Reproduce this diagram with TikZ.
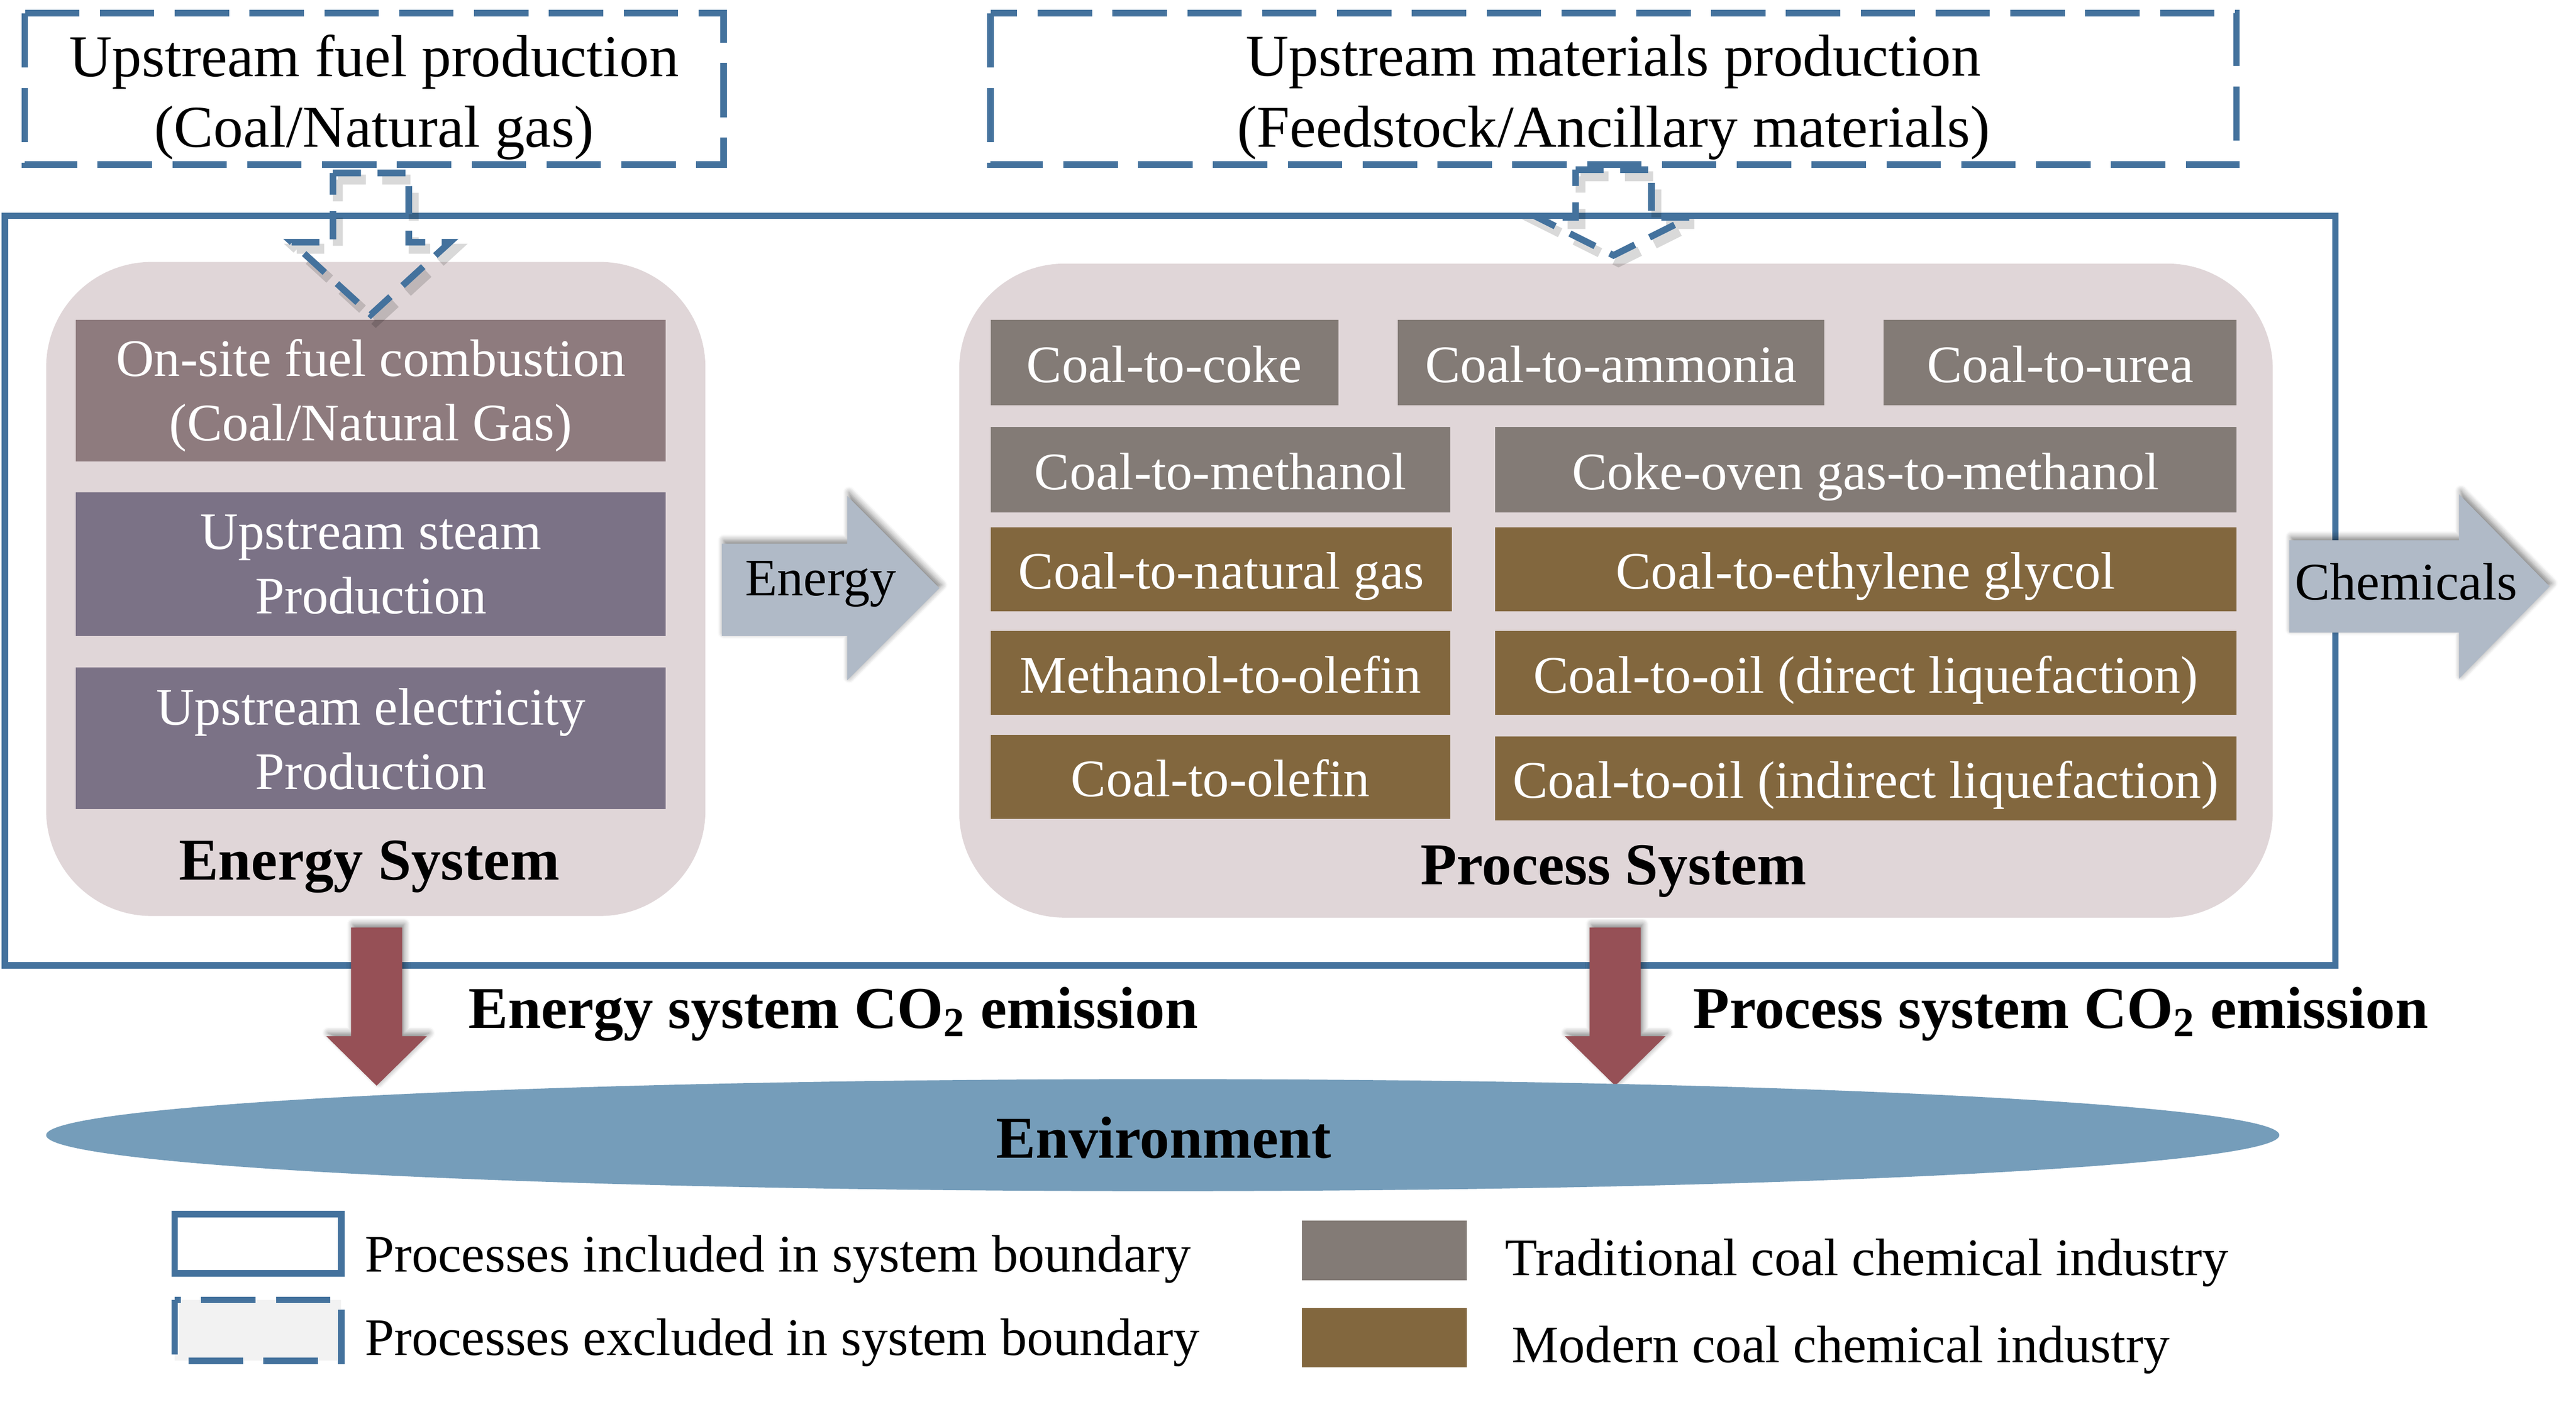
\documentclass[tikz,border=0pt]{standalone}
\usepackage{fontspec}
\setmainfont{Liberation Serif}
\usetikzlibrary{shadows.blur}

\definecolor{bndblue}{RGB}{68,114,157}
\definecolor{panelpink}{RGB}{224,214,216}
\definecolor{onsitegray}{RGB}{142,123,126}
\definecolor{upstreampurple}{RGB}{123,114,134}
\definecolor{tradgray}{RGB}{131,123,118}
\definecolor{modbrown}{RGB}{130,103,62}
\definecolor{arrowgray}{RGB}{176,186,199}
\definecolor{emisred}{RGB}{150,80,86}
\definecolor{envblue}{RGB}{117,157,186}
\definecolor{legfill}{RGB}{242,242,242}

\tikzset{
  bnd/.style={draw=bndblue, line width=2pt},
  dashbnd/.style={draw=bndblue, line width=2pt, dash pattern=on 16.5pt off 6.2pt},
  dasharrow/.style={draw=bndblue, line width=2pt, dash pattern=on 8.5pt off 5pt},
  dashshade/.style={draw=black, opacity=0.15, line width=3pt, dash pattern=on 8.5pt off 5pt},
  blockarrow/.style={blur shadow={shadow xshift=0.6pt, shadow yshift=1pt, shadow blur steps=6, shadow opacity=50}},
  bigtxt/.style={inner sep=0pt, font=\fontsize{18}{21.5}\selectfont, align=center},
  boxtxt/.style={inner sep=0pt, text=white, font=\fontsize{16}{19.5}\selectfont, align=center},
  boldtxt/.style={inner sep=0pt, font=\fontsize{18}{21.5}\selectfont\bfseries},
  legtxt/.style={inner sep=0pt, font=\fontsize{16}{19.5}\selectfont}
}

\begin{document}
\begin{tikzpicture}[x=0.5pt,y=0.5pt,yscale=-1]
    %set diagram left start at 0, and has height of 854
    \useasboundingbox (0,0) rectangle (1563,854);

    %Shape: Rectangle [upstream fuel]
    \draw [dashbnd] (15,8) rectangle (439,100);
    %Shape: Rectangle [upstream materials]
    \draw [dashbnd] (601,8) rectangle (1357,100);
    %Shape: Rectangle [system boundary]
    \draw [bnd] (3,131) rectangle (1417,586);

    %Shape: Rounded Rect [energy system]
    \fill [panelpink, rounded corners=32pt] (28,159) rectangle (428,556);
    %Shape: Rounded Rect [process system]
    \fill [panelpink, rounded corners=32pt] (582,160) rectangle (1379,557);

    %Shape: Rectangle [energy boxes]
    \fill [onsitegray] (46,194) rectangle (404,280);
    \fill [upstreampurple] (46,299) rectangle (404,386);
    \fill [upstreampurple] (46,405) rectangle (404,491);

    %Shape: Rectangle [traditional processes]
    \fill [tradgray] (601,194) rectangle (812,246);
    \fill [tradgray] (848,194) rectangle (1107,246);
    \fill [tradgray] (1143,194) rectangle (1357,246);
    \fill [tradgray] (601,259) rectangle (880,311);
    \fill [tradgray] (907,259) rectangle (1357,311);
    %Shape: Rectangle [modern processes]
    \fill [modbrown] (601,320) rectangle (881,371);
    \fill [modbrown] (907,320) rectangle (1357,371);
    \fill [modbrown] (601,383) rectangle (880,434);
    \fill [modbrown] (907,383) rectangle (1357,434);
    \fill [modbrown] (601,446) rectangle (880,497);
    \fill [modbrown] (907,447) rectangle (1357,498);

    %Shape: Down Arrow (dashed) [fuel input]
    \draw [dashshade, shift={(3,4)}] (202,105) -- (248,105) -- (248,147) -- (273,147) -- (225,191) -- (177,147) -- (202,147) -- cycle;
    \draw [dasharrow] (202,105) -- (248,105) -- (248,147) -- (273,147) -- (225,191) -- (177,147) -- (202,147) -- cycle;
    %Shape: Down Arrow (dashed) [materials input]
    \draw [dashshade, shift={(3,4)}] (956,103) -- (1002,103) -- (1002,132) -- (1025,132) -- (979,155) -- (933,132) -- (956,132) -- cycle;
    \draw [dasharrow] (956,103) -- (1002,103) -- (1002,132) -- (1025,132) -- (979,155) -- (933,132) -- (956,132) -- cycle;

    %Shape: Right Arrow [energy]
    \fill [arrowgray, blockarrow] (438,330) -- (514,330) -- (514,301) -- (570,357) -- (514,413) -- (514,386) -- (438,386) -- cycle;
    %Shape: Right Arrow [chemicals]
    \fill [arrowgray, blockarrow] (1389,328) -- (1492,328) -- (1492,300) -- (1547,356) -- (1492,412) -- (1492,384) -- (1389,384) -- cycle;
    %Shape: Down Arrow [energy emission]
    \fill [emisred, blockarrow] (213,563) -- (244,563) -- (244,629) -- (259,629) -- (228.5,659) -- (198,629) -- (213,629) -- cycle;
    %Shape: Down Arrow [process emission]
    \fill [emisred, blockarrow] (964.5,563) -- (995.5,563) -- (995.5,629) -- (1010.5,629) -- (980,659) -- (949.5,629) -- (964.5,629) -- cycle;

    %Shape: Ellipse [environment]
    \fill [envblue] (705.5,689) ellipse [x radius=338.75pt, y radius=17pt];

    %Shape: Legend
    \draw [bnd] (106,737) rectangle (207,773);
    \draw [dashbnd, fill=legfill] (106,789) rectangle (207,826);
    \fill [tradgray] (790,741) rectangle (890,777);
    \fill [modbrown] (790,794) rectangle (890,830);

    % Text Node
    \node [bigtxt] (fuelup) at (227,59) {Upstream fuel production\\(Coal/Natural gas)};
    % Text Node
    \node [bigtxt] (matup) at (979,59) {Upstream materials production\\(Feedstock/Ancillary materials)};
    % Text Node
    \node [boxtxt] (onsite) at (225,240) {On-site fuel combustion\\(Coal/Natural Gas)};
    % Text Node
    \node [boxtxt] (steam) at (225,342.7) {Upstream steam\\Production};
    % Text Node
    \node [boxtxt] (elec) at (225,448.6) {Upstream electricity\\Production};
    % Text Node
    \node [boldtxt, anchor=base] (energysys) at (224,534) {Energy System};

    % Text Node
    \node [boxtxt, anchor=base] (coke) at (706.5,232) {Coal-to-coke};
    \node [boxtxt, anchor=base] (ammonia) at (977.5,232) {Coal-to-ammonia};
    \node [boxtxt, anchor=base] (urea) at (1250,232) {Coal-to-urea};
    \node [boxtxt, anchor=base] (methanol) at (740.5,297) {Coal-to-methanol};
    \node [boxtxt, anchor=base] (cokeoven) at (1132,297) {Coke-oven gas-to-methanol};
    \node [boxtxt, anchor=base] (natgas) at (741,357.5) {Coal-to-natural gas};
    \node [boxtxt, anchor=base] (glycol) at (1132,357.5) {Coal-to-ethylene glycol};
    \node [boxtxt, anchor=base] (mto) at (740.5,420.5) {Methanol-to-olefin};
    \node [boxtxt, anchor=base] (dcl) at (1132,420.5) {Coal-to-oil (direct liquefaction)};
    \node [boxtxt, anchor=base] (cto) at (740.5,483.5) {Coal-to-olefin};
    \node [boxtxt, anchor=base] (icl) at (1132,484.5) {Coal-to-oil (indirect liquefaction)};
    % Text Node
    \node [boldtxt, anchor=base] (processsys) at (979,537) {Process System};

    % Text Node
    \node [legtxt, anchor=base] (energyflow) at (498,361.5) {Energy};
    % Text Node
    \node [legtxt, anchor=base] (chemflow) at (1460,364) {Chemicals};
    % Text Node
    \node [boldtxt, anchor=base west] (energyco2) at (284,624) {Energy system CO\textsubscript{2} emission};
    % Text Node
    \node [boldtxt, anchor=base west] (processco2) at (1027,624) {Process system CO\textsubscript{2} emission};
    % Text Node
    \node [boldtxt, anchor=base] (environment) at (706,703) {Environment};

    % Text Node
    \node [legtxt, anchor=base west] (legincl) at (221,772) {Processes included in system boundary};
    \node [legtxt, anchor=base west] (legexcl) at (221,822.6) {Processes excluded in system boundary};
    \node [legtxt, anchor=base west] (legtrad) at (913,774) {Traditional coal chemical industry};
    \node [legtxt, anchor=base west] (legmod) at (917,827) {Modern coal chemical industry};

\end{tikzpicture}
\end{document}
